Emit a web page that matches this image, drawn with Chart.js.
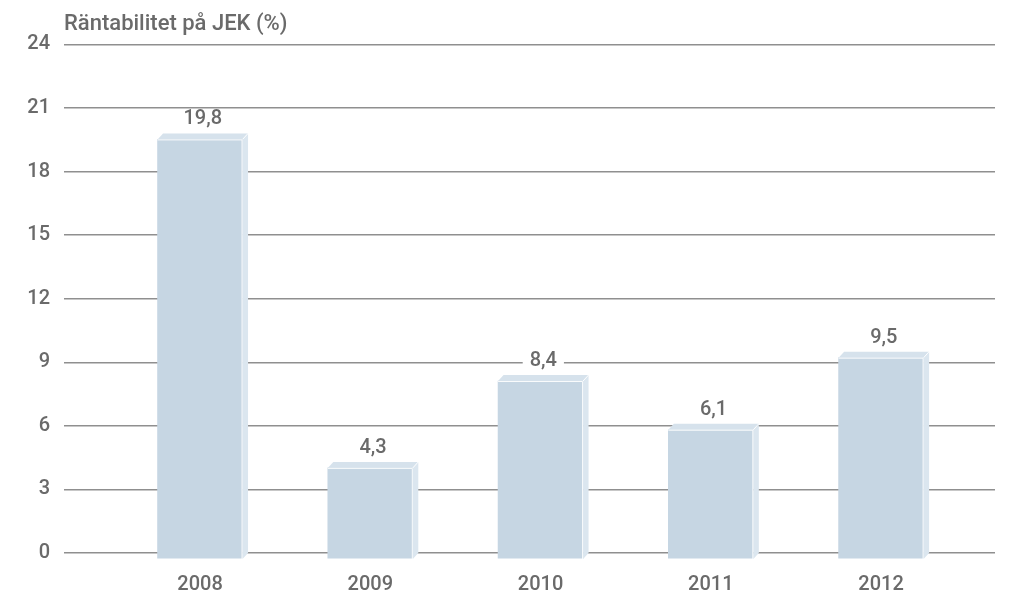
<!DOCTYPE html>
<html lang="sv">
<head>
<meta charset="utf-8">
<title>Räntabilitet på JEK</title>
<script src="https://cdn.jsdelivr.net/npm/chart.js@4.4.1/dist/chart.umd.min.js"></script>
<style>
    html, body {
        margin: 0;
        padding: 0;
        background: #ffffff;
    }

    #wrap {
        width: 1011px;
        height: 595px;
    }
</style>
</head>
<body>
<div id="wrap">
    <canvas id="roeChart" width="1011" height="595"></canvas>
</div>

<script>
// Data
const years = ['2008', '2009', '2010', '2011', '2012'];
const roeValues = [19.8, 4.3, 8.4, 6.1, 9.5];
const valueLabels = ['19,8', '4,3', '8,4', '6,1', '9,5'];
const yTicks = [0, 3, 6, 9, 12, 15, 18, 21, 24];

const textColor = '#6a6a6a';
const gridColor = '#8f8f8f';
const fontFamily = "Roboto, 'Liberation Sans', sans-serif";

// 3D look
const depthX = 5.5;
const depthY = 6;
const frontColor = '#c6d6e3';
const topColor = '#d6e2ec';
const sideColor = '#dbe6ef';

const barDepthPlugin = {
    id: 'barDepth',
    beforeDatasetsDraw(chart) {
        chart.ctx.save();
        chart.ctx.translate(0, depthY);
    },
    afterDatasetsDraw(chart) {
        const ctx = chart.ctx;
        ctx.restore();

        const meta = chart.getDatasetMeta(0);
        const yScale = chart.scales.y;
        const base = yScale.getPixelForValue(0);

        meta.data.forEach((bar, i) => {
            const half = bar.width / 2;
            const left = bar.x - half;
            const right = bar.x + half;
            const top = bar.y + depthY;
            const bottom = base + depthY;

            // top face
            ctx.beginPath();
            ctx.moveTo(left, top);
            ctx.lineTo(left + depthX, top - depthY);
            ctx.lineTo(right + depthX, top - depthY);
            ctx.lineTo(right, top);
            ctx.closePath();
            ctx.fillStyle = topColor;
            ctx.fill();

            // side face
            ctx.beginPath();
            ctx.moveTo(right, top);
            ctx.lineTo(right + depthX, top - depthY);
            ctx.lineTo(right + depthX, bottom - depthY);
            ctx.lineTo(right, bottom);
            ctx.closePath();
            ctx.fillStyle = sideColor;
            ctx.fill();

            // white edges
            ctx.beginPath();
            ctx.moveTo(left, top + 0.5);
            ctx.lineTo(right - 0.5, top + 0.5);
            ctx.lineTo(right - 0.5, bottom);
            ctx.moveTo(right, top);
            ctx.lineTo(right + depthX, top - depthY);
            ctx.strokeStyle = 'rgba(255, 255, 255, 0.9)';
            ctx.lineWidth = 1;
            ctx.stroke();

            // value label on a white patch
            ctx.font = `500 20px ${fontFamily}`;
            const text = valueLabels[i];
            const tw = ctx.measureText(text).width;
            const cx = bar.x + depthX / 2;
            const cy = bar.y - 14;
            ctx.fillStyle = '#ffffff';
            ctx.fillRect(cx - tw / 2 - 7, cy - 10, tw + 14, 20);
            ctx.fillStyle = textColor;
            ctx.textAlign = 'center';
            ctx.textBaseline = 'middle';
            ctx.fillText(text, cx, cy);
        });
    }
};

// Chart
const ctx = document.getElementById('roeChart').getContext('2d');

new Chart(ctx, {
    type: 'bar',
    data: {
        datasets: [{
            label: 'Räntabilitet på JEK (%)',
            data: roeValues.map((v, i) => ({ x: i, y: v })),
            backgroundColor: frontColor,
            borderWidth: 0,
            barThickness: 85,
            clip: false
        }]
    },
    plugins: [barDepthPlugin],
    options: {
        responsive: false,
        animation: false,
        layout: {
            padding: { left: 0, right: 16, top: 0, bottom: 0 }
        },
        plugins: {
            legend: { display: false },
            tooltip: { enabled: false },
            title: {
                display: true,
                text: 'Räntabilitet på JEK (%)',
                align: 'start',
                fullSize: false,
                color: textColor,
                font: { family: fontFamily, size: 22, weight: '500' },
                padding: { top: 11, bottom: 7 }
            }
        },
        scales: {
            x: {
                type: 'linear',
                offset: false,
                min: -0.799,
                max: 4.669,
                grid: { display: false, drawTicks: false },
                border: { display: false },
                afterFit(scale) {
                    scale.height = 42;
                },
                afterBuildTicks(scale) {
                    scale.ticks = years.map((_, i) => ({ value: i }));
                },
                ticks: {
                    autoSkip: false,
                    maxRotation: 0,
                    padding: 20,
                    color: textColor,
                    font: { family: fontFamily, size: 20, weight: '500' },
                    callback: (value) => years[value] || ''
                }
            },
            y: {
                min: 0,
                max: 24,
                afterFit(scale) {
                    scale.width = 64;
                },
                afterBuildTicks(scale) {
                    scale.ticks = yTicks.map(v => ({ value: v }));
                },
                grid: {
                    color: gridColor,
                    lineWidth: 1.5,
                    drawTicks: false
                },
                border: { display: false },
                ticks: {
                    padding: 14,
                    color: textColor,
                    font: { family: fontFamily, size: 20, weight: '500' }
                }
            }
        }
    }
});
</script>
</body>
</html>
